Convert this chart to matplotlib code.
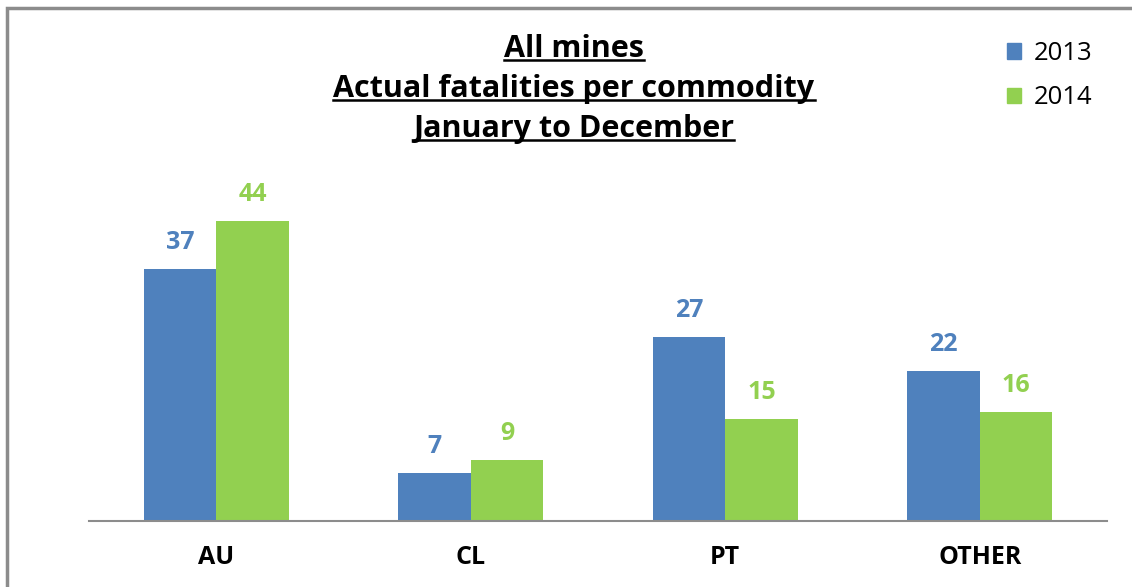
import numpy as np
import matplotlib
matplotlib.use('Agg')
from matplotlib import pyplot as plt
from matplotlib.lines import Line2D
from matplotlib.patches import Patch, Rectangle

categories = ['AU', 'CL', 'PT', 'OTHER']
fatalities_2013 = [37, 7, 27, 22]
fatalities_2014 = [44, 9, 15, 16]
title_lines = ['All mines', 'Actual fatalities per commodity', 'January to December']

blue = '#4F81BD'
green = '#92D050'

plt.rcParams['font.family'] = ['Open Sans', 'DejaVu Sans']

fig = plt.figure(figsize=(11.32, 5.87), dpi=100)
ax = fig.add_axes([89 / 1132, 66 / 587, 1018 / 1132, 361 / 587])

x = np.arange(len(categories))
w = 0.285
b1 = ax.bar(x - w / 2, fatalities_2013, w, color=blue, label='2013')
b2 = ax.bar(x + w / 2, fatalities_2014, w, color=green, label='2014')

for bars, vals, c in [(b1, fatalities_2013, blue), (b2, fatalities_2014, green)]:
    for r, v in zip(bars, vals):
        ax.annotate(str(v), (r.get_x() + r.get_width() / 2, v), xytext=(0, 10),
                    textcoords='offset points', ha='center', va='bottom',
                    color=c, fontsize=18, fontweight='bold')

ax.set_xlim(-0.5, 3.5)
ax.set_ylim(0, 53)
ax.set_xticks(x)
ax.set_xticklabels(categories, fontsize=18, fontweight='bold')
ax.tick_params(axis='x', length=0, pad=17)
ax.set_yticks([])
for s in ['top', 'right', 'left']:
    ax.spines[s].set_visible(False)
ax.spines['bottom'].set_color('#8c8c8c')
ax.spines['bottom'].set_linewidth(1.5)

# title lines with underline
ys = [49, 89, 129]
texts = []
for line, yy in zip(title_lines, ys):
    t = fig.text(574 / 1132, 1 - yy / 587, line, ha='center', va='center',
                 fontsize=22, fontweight='bold')
    texts.append(t)
fig.canvas.draw()
r = fig.canvas.get_renderer()
for t in texts:
    bb = t.get_window_extent(r).transformed(fig.transFigure.inverted())
    fig.add_artist(Line2D([bb.x0, bb.x1], [bb.y0 + 0.006, bb.y0 + 0.006],
                          transform=fig.transFigure, color='black', lw=1.8))

handles = [Patch(color=blue), Patch(color=green)]
fig.legend(handles, ['2013', '2014'], loc='upper left',
           bbox_to_anchor=(984 / 1132, 1 - 18 / 587), frameon=False,
           fontsize=18.5, handlelength=0.55, handleheight=0.55, handletextpad=0.5,
           labelspacing=0.75)

# chart border (left and top visible)
fig.add_artist(Rectangle((7 / 1132, -0.1), 1.2, 1 - 8 / 587 + 0.1,
                         transform=fig.transFigure, fill=False,
                         edgecolor='#8c8c8c', lw=2.5))

fig.savefig('out.png', dpi=100)
